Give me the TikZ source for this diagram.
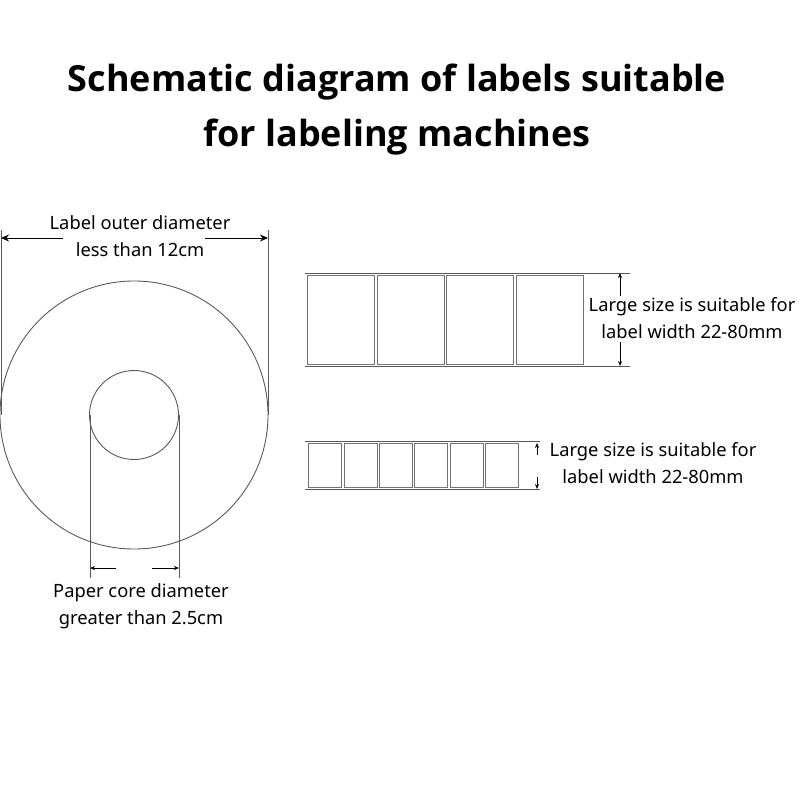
\documentclass[tikz,border=0pt]{standalone}
\usepackage{fontspec}
\setmainfont{Noto Sans}
\newfontfamily\ttlfont{Open Sans}
\usetikzlibrary{arrows.meta}
\begin{document}
\begin{tikzpicture}[x=1pt,y=-1pt,
  ln/.style={draw=black!65,line width=0.9pt},
  lab/.style={draw=black!55,line width=1pt,fill=white},
  arr/.style={draw=black,line width=1pt,-{Stealth[length=8pt,width=7pt]}},
  sarr/.style={draw=black,line width=0.7pt,-{Stealth[length=5pt,width=4pt]}},
  txt/.style={font=\fontsize{18.3}{27}\selectfont,align=center,inner sep=0pt},
  ttl/.style={font=\ttlfont\bfseries\fontsize{36}{55}\selectfont,align=center,inner sep=0pt}]
\useasboundingbox (0,0) rectangle (800,800);
\node[ttl] (title) at (397,110) {Schematic diagram of labels suitable\\for labeling machines};
% roll
\node[circle,ln,minimum size=268pt,inner sep=0pt] (outer) at (134,415) {};
\node[circle,ln,minimum size=89pt,inner sep=0pt] (inner) at (134,415) {};
\coordinate (oL1) at (1,230); \coordinate (oL2) at (1,415);
\coordinate (oR1) at (268,230); \coordinate (oR2) at (268,415);
\draw[ln] (oL1) -- (oL2); \draw[ln] (oR1) -- (oR2);
\node[txt] (otext) at (140,236) {Label outer diameter\\less than 12cm};
\coordinate (a1) at (63,238); \coordinate (a1e) at (1,238);
\coordinate (a2) at (205,238); \coordinate (a2e) at (268,238);
\draw[arr] (a1) -- (a1e); \draw[arr] (a2) -- (a2e);
\coordinate (iL1) at (90,415); \coordinate (iL2) at (90,578);
\coordinate (iR1) at (179,415); \coordinate (iR2) at (179,578);
\draw[ln] (iL1) -- (iL2); \draw[ln] (iR1) -- (iR2);
\coordinate (b1) at (116,568); \coordinate (b1e) at (90,568);
\coordinate (b2) at (152,568); \coordinate (b2e) at (179,568);
\draw[sarr] (b1) -- (b1e); \draw[sarr] (b2) -- (b2e);
\node[txt] (itext) at (141,606) {Paper core diameter\\greater than 2.5cm};
% big strip
\coordinate (s1a) at (305,273); \coordinate (s1b) at (630,273);
\coordinate (s1c) at (305,366); \coordinate (s1d) at (630,366);
\draw[ln] (s1a) -- (s1b); \draw[ln] (s1c) -- (s1d);
\foreach \x in {307,377,446,516}
  \draw[lab] (\x,275) rectangle ++(67,89);
\coordinate (c1) at (620,296); \coordinate (c1e) at (620,273);
\coordinate (c2) at (620,342); \coordinate (c2e) at (620,366);
\draw[sarr] (c1) -- (c1e); \draw[sarr] (c2) -- (c2e);
\node[txt,fill=white,inner sep=1pt] (t1) at (692,318) {Large size is suitable for\\label width 22-80mm};
% small strip
\coordinate (s2a) at (305,441); \coordinate (s2b) at (540,441);
\coordinate (s2c) at (305,489); \coordinate (s2d) at (540,489);
\draw[ln] (s2a) -- (s2b); \draw[ln] (s2c) -- (s2d);
\foreach \x in {308,344,379,414,450,485}
  \draw[lab] (\x,443) rectangle ++(33,44);
\coordinate (d1) at (537,455); \coordinate (d1e) at (537,443);
\coordinate (d2) at (537,477); \coordinate (d2e) at (537,489);
\draw[sarr] (d1) -- (d1e); \draw[sarr] (d2) -- (d2e);
\node[txt] (t2) at (653,463) {Large size is suitable for\\label width 22-80mm};
\end{tikzpicture}
\end{document}
